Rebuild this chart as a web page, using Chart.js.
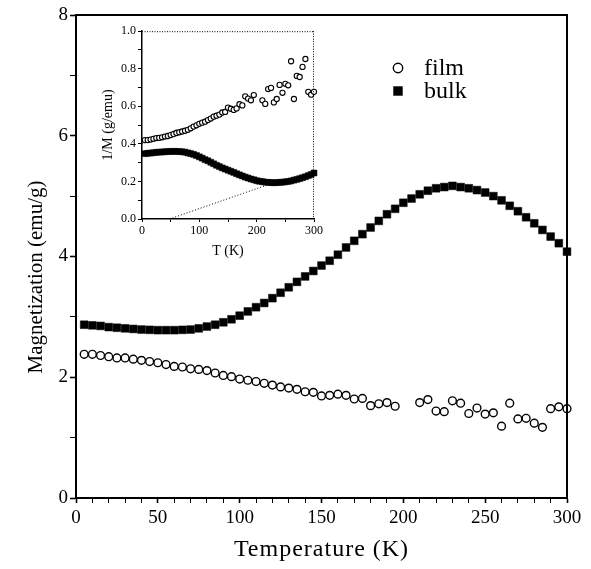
<!DOCTYPE html>
<html>
<head>
<meta charset="utf-8">
<title>Magnetization vs Temperature</title>
<script src="https://cdn.jsdelivr.net/npm/chart.js@4.4.0/dist/chart.umd.min.js"></script>
<style>
  html, body { margin: 0; padding: 0; background: #fff; }
  #wrap { position: relative; width: 591px; height: 569px; }
  #main { position: absolute; left: 0; top: 0; }
  #inset { position: absolute; left: 90px; top: 22px; }
</style>
</head>
<body>
<div id="wrap">
  <canvas id="main" width="591" height="569" style="width:591px;height:569px"></canvas>
  <canvas id="inset" width="235" height="240" style="width:235px;height:240px"></canvas>
</div>
<script>
// ---- main panel data (T in K, M in emu/g) ----
const tempFilm = [5, 10, 15, 20, 25, 30, 35, 40, 45, 50, 55, 60, 65, 70, 75, 80, 85, 90, 95, 100,
  105, 110, 115, 120, 125, 130, 135, 140, 145, 150, 155, 160, 165, 170, 175, 180, 185, 190, 195,
  210, 215, 220, 225, 230, 235, 240, 245, 250, 255, 260, 265, 270, 275, 280, 285, 290, 295, 300];
const filmM = [2.38, 2.38, 2.36, 2.34, 2.32, 2.32, 2.30, 2.28, 2.26, 2.24, 2.21, 2.18, 2.17, 2.14, 2.13, 2.11,
  2.07, 2.03, 2.01, 1.97, 1.95, 1.93, 1.90, 1.87, 1.84, 1.82, 1.80, 1.76, 1.75, 1.69, 1.70, 1.72, 1.70,
  1.64, 1.65, 1.53, 1.56, 1.58, 1.52,
  1.58, 1.63, 1.44, 1.43, 1.61, 1.57, 1.40, 1.49, 1.39, 1.41, 1.19, 1.57, 1.31, 1.32, 1.24, 1.17,
  1.48, 1.51, 1.48];

const tempBulk = [5, 10, 15, 20, 25, 30, 35, 40, 45, 50, 55, 60, 65, 70, 75, 80, 85, 90, 95, 100,
  105, 110, 115, 120, 125, 130, 135, 140, 145, 150, 155, 160, 165, 170, 175, 180, 185, 190, 195, 200,
  205, 210, 215, 220, 225, 230, 235, 240, 245, 250, 255, 260, 265, 270, 275, 280, 285, 290, 295, 300];
const bulkM = [2.87, 2.86, 2.85, 2.83, 2.82, 2.81, 2.80, 2.79, 2.785, 2.78, 2.78, 2.78, 2.785, 2.79, 2.81,
  2.84, 2.87, 2.91, 2.96, 3.02, 3.09, 3.16, 3.23, 3.31, 3.40, 3.49, 3.58, 3.67, 3.76, 3.85, 3.93, 4.03,
  4.15, 4.26, 4.37, 4.48, 4.59, 4.70, 4.79, 4.89, 4.96, 5.03, 5.09, 5.13, 5.15, 5.17, 5.15, 5.13, 5.10,
  5.06, 5.00, 4.93, 4.84, 4.75, 4.65, 4.55, 4.44, 4.33, 4.22, 4.08];

// ---- inset data (1/M in g/emu) ----
const insetFilm = [0.42, 0.42, 0.423, 0.427, 0.431, 0.432, 0.435, 0.439, 0.442, 0.447, 0.452, 0.458, 0.462,
  0.466, 0.47, 0.475, 0.483, 0.492, 0.499, 0.507, 0.513, 0.518, 0.527, 0.535, 0.545, 0.55, 0.556, 0.567,
  0.57, 0.593, 0.587, 0.581, 0.589, 0.611, 0.605, 0.653, 0.641, 0.632, 0.66,
  0.632, 0.613, 0.692, 0.698, 0.621, 0.639, 0.714, 0.672, 0.72, 0.712, 0.84, 0.639, 0.762, 0.756,
  0.81, 0.852, 0.677, 0.662, 0.677];
const insetBulk = [0.348, 0.35, 0.351, 0.353, 0.355, 0.356, 0.357, 0.358, 0.359, 0.36, 0.36, 0.36, 0.359,
  0.358, 0.356, 0.352, 0.348, 0.344, 0.338, 0.331, 0.324, 0.316, 0.31, 0.302, 0.294, 0.286, 0.279, 0.272,
  0.266, 0.26, 0.254, 0.248, 0.241, 0.235, 0.229, 0.223, 0.218, 0.213, 0.209, 0.204, 0.201, 0.199, 0.196,
  0.195, 0.194, 0.193, 0.194, 0.195, 0.196, 0.198, 0.2, 0.203, 0.207, 0.211, 0.215, 0.22, 0.225, 0.231,
  0.237, 0.245];

// dotted guide lines in the inset
const fitFilmT = [0, 60];
const fitFilmV = [0.40, 0.475];
const fitBulkT = [48, 235];
const fitBulkV = [0, 0.199];

const xTicksMain = [0, 50, 100, 150, 200, 250, 300];
const yTicksMain = [0, 2, 4, 6, 8];

const serif = '"Liberation Serif", "DejaVu Serif", serif';

function pairs(xs, ys) {
  return xs.map((x, i) => ({ x: x, y: ys[i] }));
}

// draws frame, titles and legend on the main panel
const mainDecor = {
  id: 'mainDecor',
  afterDraw(chart) {
    const ctx = chart.ctx;
    const a = chart.chartArea;
    ctx.save();
    ctx.strokeStyle = '#000';
    ctx.lineWidth = 2;
    ctx.beginPath();
    ctx.moveTo(a.left, a.top);
    ctx.lineTo(a.right, a.top);
    ctx.lineTo(a.right, a.bottom);
    ctx.stroke();

    ctx.fillStyle = '#000';
    ctx.textBaseline = 'middle';
    ctx.textAlign = 'center';
    ctx.font = '24px ' + serif;
    if ('letterSpacing' in ctx) ctx.letterSpacing = '1px';
    ctx.fillText('Temperature (K)', (a.left + a.right) / 2, 550);
    if ('letterSpacing' in ctx) ctx.letterSpacing = '0px';

    ctx.save();
    ctx.translate(36, 277);
    ctx.rotate(-Math.PI / 2);
    ctx.font = '21px ' + serif;
    ctx.fillText('Magnetization (emu/g)', 0, 0);
    ctx.restore();

    // legend
    const ds = chart.data.datasets;
    const rows = [{ d: ds[0], y: 68 }, { d: ds[1], y: 91 }];
    ctx.font = '24px ' + serif;
    ctx.textAlign = 'left';
    rows.forEach(r => {
      ctx.fillStyle = r.d.pointBackgroundColor;
      ctx.strokeStyle = r.d.pointBorderColor;
      ctx.lineWidth = r.d.pointBorderWidth;
      Chart.helpers.drawPoint(ctx, {
        pointStyle: r.d.pointStyle,
        radius: r.d.pointRadius + 0.8,
        rotation: 0,
        borderWidth: r.d.pointBorderWidth
      }, 398, r.y);
      ctx.fillStyle = '#000';
      ctx.fillText(r.d.label, 424, r.y + 1);
    });
    ctx.restore();
  }
};

const mainChart = new Chart(document.getElementById('main'), {
  type: 'scatter',
  data: {
    datasets: [
      {
        label: 'film',
        data: pairs(tempFilm, filmM),
        clip: false,
        pointStyle: 'circle',
        pointRadius: 3.9,
        pointBackgroundColor: '#fff',
        pointBorderColor: '#000',
        pointBorderWidth: 1.4
      },
      {
        label: 'bulk',
        data: pairs(tempBulk, bulkM),
        clip: false,
        pointStyle: 'rect',
        pointRadius: 5.5,
        pointBackgroundColor: '#000',
        pointBorderColor: '#000',
        pointBorderWidth: 0.5
      }
    ]
  },
  options: {
    responsive: false,
    animation: false,
    devicePixelRatio: 1,
    layout: { padding: { top: 15, right: 24, left: 0, bottom: 0 } },
    plugins: { legend: { display: false }, tooltip: { enabled: false } },
    scales: {
      x: {
        type: 'linear',
        min: 0,
        max: 300,
        afterFit: s => { s.height = 71; },
        border: { display: true, color: '#000', width: 2 },
        grid: {
          drawOnChartArea: false,
          tickLength: 5,
          tickColor: '#000',
          tickWidth: c => (xTicksMain.includes(c.tick.value) ? 1.6 : 1)
        },
        ticks: {
          stepSize: 10,
          autoSkip: false,
          maxRotation: 0,
          padding: 4,
          color: '#000',
          font: { family: serif, size: 19 },
          callback: v => (xTicksMain.includes(v) ? String(v) : '')
        }
      },
      y: {
        type: 'linear',
        min: 0,
        max: 8,
        afterFit: s => { s.width = 76; },
        border: { display: true, color: '#000', width: 2 },
        grid: {
          drawOnChartArea: false,
          tickLength: 6,
          tickColor: '#000',
          tickWidth: c => (yTicksMain.includes(c.tick.value) ? 1.6 : 1)
        },
        ticks: {
          stepSize: 1,
          autoSkip: false,
          padding: 2,
          color: '#000',
          font: { family: serif, size: 19 },
          callback: v => (yTicksMain.includes(v) ? String(v) : '')
        }
      }
    }
  },
  plugins: [mainDecor]
});

// ---- inset ----
const insetDecor = {
  id: 'insetDecor',
  afterDraw(chart) {
    const ctx = chart.ctx;
    const a = chart.chartArea;
    ctx.save();
    ctx.strokeStyle = '#000';
    ctx.lineWidth = 1;
    ctx.setLineDash([1, 1.5]);
    ctx.beginPath();
    ctx.moveTo(a.left, a.top + 0.5);
    ctx.lineTo(a.right, a.top + 0.5);
    ctx.moveTo(a.right - 0.5, a.top);
    ctx.lineTo(a.right - 0.5, a.bottom);
    ctx.stroke();
    ctx.setLineDash([]);

    ctx.fillStyle = '#000';
    ctx.textAlign = 'center';
    ctx.textBaseline = 'middle';
    ctx.font = '14px ' + serif;
    ctx.fillText('T (K)', (a.left + a.right) / 2, 229);
    ctx.save();
    ctx.translate(18, 103);
    ctx.rotate(-Math.PI / 2);
    ctx.font = '14px ' + serif;
    ctx.fillText('1/M (g/emu)', 0, 0);
    ctx.restore();
    ctx.restore();
  }
};

const insetChart = new Chart(document.getElementById('inset'), {
  type: 'scatter',
  data: {
    datasets: [
      {
        label: 'film',
        data: pairs(tempFilm, insetFilm),
        clip: false,
        pointStyle: 'circle',
        pointRadius: 2.6,
        pointBackgroundColor: '#fff',
        pointBorderColor: '#000',
        pointBorderWidth: 1.1
      },
      {
        label: 'bulk',
        data: pairs(tempBulk, insetBulk),
        clip: false,
        pointStyle: 'rect',
        pointRadius: 4.2,
        pointBackgroundColor: '#000',
        pointBorderColor: '#000',
        pointBorderWidth: 0.5
      },
      {
        type: 'line',
        label: 'film fit',
        data: pairs(fitFilmT, fitFilmV),
        borderColor: '#000',
        borderWidth: 1,
        borderDash: [1, 2],
        pointRadius: 0,
        fill: false
      },
      {
        type: 'line',
        label: 'bulk fit',
        data: pairs(fitBulkT, fitBulkV),
        borderColor: '#000',
        borderWidth: 1,
        borderDash: [1, 2],
        pointRadius: 0,
        fill: false
      }
    ]
  },
  options: {
    responsive: false,
    animation: false,
    devicePixelRatio: 1,
    layout: { padding: { top: 8, right: 6, left: 0, bottom: 0 } },
    plugins: { legend: { display: false }, tooltip: { enabled: false } },
    scales: {
      x: {
        type: 'linear',
        min: 0,
        max: 300,
        afterFit: s => { s.height = 43; },
        border: { display: true, color: '#000', width: 1.5 },
        grid: { drawOnChartArea: false, tickLength: 3, tickColor: '#000' },
        ticks: {
          stepSize: 50,
          autoSkip: false,
          maxRotation: 0,
          padding: 2,
          color: '#000',
          font: { family: serif, size: 12 },
          callback: v => (v % 100 === 0 ? String(v) : '')
        }
      },
      y: {
        type: 'linear',
        min: 0,
        max: 1,
        afterFit: s => { s.width = 52; },
        border: { display: true, color: '#000', width: 1.5 },
        grid: { drawOnChartArea: false, tickLength: 4, tickColor: '#000' },
        ticks: {
          stepSize: 0.1,
          autoSkip: false,
          padding: 2,
          color: '#000',
          font: { family: serif, size: 12 },
          callback: v => (Math.round(v * 10) % 2 === 0 ? v.toFixed(1) : '')
        }
      }
    }
  },
  plugins: [insetDecor]
});
</script>
</body>
</html>
